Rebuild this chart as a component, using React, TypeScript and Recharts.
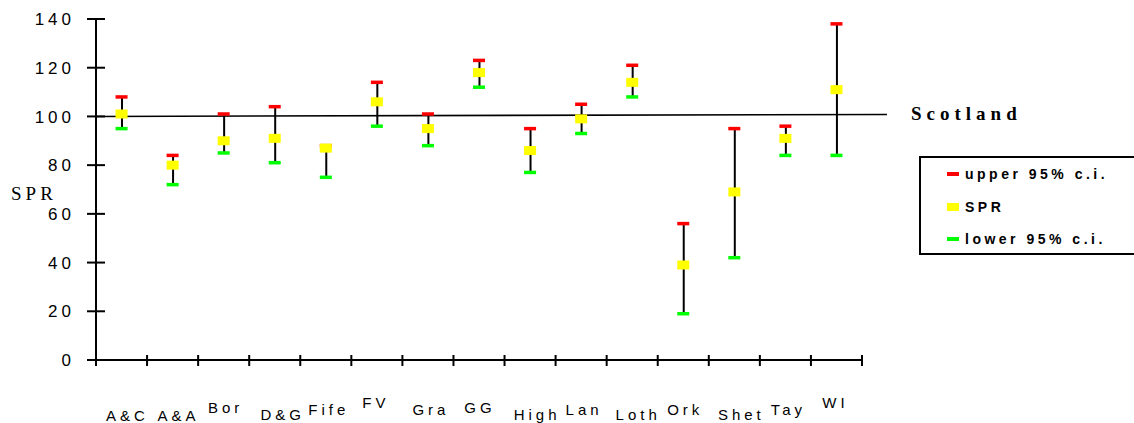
import { ComposedChart, Bar, Scatter, XAxis, YAxis, ReferenceLine, Legend } from 'recharts';

const areas = ['A&C', 'A&A', 'Bor', 'D&G', 'Fife', 'FV', 'Gra', 'GG', 'High', 'Lan', 'Loth', 'Ork', 'Shet', 'Tay', 'WI'];
const upperCI = [108, 84, 101, 104, 88, 114, 101, 123, 95, 105, 121, 56, 95, 96, 138];
const sprValues = [101, 80, 90, 91, 87, 106, 95, 118, 86, 99, 114, 39, 69, 91, 111];
const lowerCI = [95, 72, 85, 81, 75, 96, 88, 112, 77, 93, 108, 19, 42, 84, 84];
const yTicks = [0, 20, 40, 60, 80, 100, 120, 140];
const scotlandRate = 100;

// staggered label placement of the original (x shift, baseline below the axis)
const labelShift = [6, 6, 2, 8, 3, -1, 3, 1, 7, 3, 6, 2, 7, 3, -1];
const labelDrop = [61, 61, 53, 60, 55, 48, 55, 53, 60, 55, 60, 55, 60, 55, 48];

const data = areas.map((name, i) => ({
  name,
  upper: upperCI[i],
  spr: sprValues[i],
  lower: lowerCI[i],
}));

const W = 1134;
const H = 423;
const PLOT_LEFT = 96;
const PLOT_RIGHT = 862;
const BAND = (PLOT_RIGHT - PLOT_LEFT) / areas.length;

const sans = '"Liberation Sans", Arial, sans-serif';
const serif = '"Liberation Serif", "Times New Roman", serif';

const legendItems = [
  { label: 'upper 95% c.i.', color: '#ff0000', h: 3.5 },
  { label: 'SPR', color: '#ffff00', h: 8 },
  { label: 'lower 95% c.i.', color: '#00ff00', h: 3.5 },
];

const dash = (color: string) => (props: any) => (
  <rect x={props.cx - 6} y={props.cy - 1.75} width={12} height={3.5} fill={color} />
);
const square = (props: any) => (
  <rect x={props.cx - 6} y={props.cy - 4.5} width={12} height={9} fill="#ffff00" />
);

function YTick({ x, y, payload }: any) {
  return (
    <g>
      <line x1={x - 9} x2={x + 9} y1={y} y2={y} stroke="#000" strokeWidth={2} />
      <text x={x - 21} y={y} dy="0.36em" textAnchor="end" fontFamily={sans} fontSize={17} letterSpacing={4} fill="#000">
        {payload.value}
      </text>
    </g>
  );
}

function XTick({ x, y, payload, index }: any) {
  return (
    <g>
      {index === 0 && (
        <line x1={x - BAND / 2} x2={x - BAND / 2} y1={y - 5} y2={y + 6} stroke="#000" strokeWidth={2} />
      )}
      <line x1={x + BAND / 2} x2={x + BAND / 2} y1={y - 5} y2={y + 6} stroke="#000" strokeWidth={2} />
      <text x={x + labelShift[index]} y={y + labelDrop[index]} textAnchor="middle" fontFamily={sans} fontSize={15} letterSpacing={4} fill="#000">
        {payload.value}
      </text>
    </g>
  );
}

function ScotlandLine(props: any) {
  const { x1, y1, x2, y2 } = props;
  return (
    <g>
      <line x1={x1} y1={y1} x2={x2 + 25} y2={y2 - 2} stroke="#000" strokeWidth={1.6} />
      <text x={x2 + 49} y={y2 + 4} fontFamily={serif} fontWeight="bold" fontSize={19} letterSpacing={5} fill="#000">
        Scotland
      </text>
    </g>
  );
}

function LegendBox() {
  return (
    <div
      style={{
        position: 'relative',
        width: 240,
        height: 99,
        boxSizing: 'border-box',
        border: '2px solid #000',
        background: '#fff',
        fontFamily: sans,
        fontWeight: 'bold',
        fontSize: 14,
        letterSpacing: 3.5,
        color: '#000',
      }}
    >
      {legendItems.map((item, i) => (
        <div key={item.label} style={{ position: 'absolute', left: 26, top: 8 + i * 32.5, height: 16, display: 'flex', alignItems: 'center' }}>
          <span style={{ display: 'inline-block', width: 12, height: item.h, background: item.color, marginRight: 6 }} />
          <span style={{ lineHeight: '16px' }}>{item.label}</span>
        </div>
      ))}
    </div>
  );
}

export default function App() {
  return (
    <div style={{ position: 'absolute', left: 0, top: 0, width: W, height: H, overflow: 'hidden', background: '#fff' }}>
      <ComposedChart width={W} height={H} data={data} margin={{ top: 19, right: W - PLOT_RIGHT, bottom: 0, left: 36 }}>
        <XAxis
          dataKey="name"
          height={63}
          interval={0}
          tickLine={false}
          tickSize={0}
          tickMargin={0}
          axisLine={{ stroke: '#000', strokeWidth: 2 }}
          tick={<XTick />}
        />
        <YAxis
          type="number"
          width={60}
          domain={[0, 140]}
          ticks={yTicks}
          interval={0}
          tickLine={false}
          tickSize={0}
          tickMargin={0}
          axisLine={{ stroke: '#000', strokeWidth: 2 }}
          tick={<YTick />}
          label={{
            content: () => (
              <text x={11} y={200} fontFamily={serif} fontSize={19} letterSpacing={4} fill="#000">
                SPR
              </text>
            ),
          }}
        />
        <ReferenceLine y={scotlandRate} shape={ScotlandLine} />
        <Bar dataKey={(d: any) => [d.lower, d.upper]} barSize={2} fill="#000" legendType="none" isAnimationActive={false} />
        <Scatter name="upper 95% c.i." dataKey="upper" shape={dash('#ff0000')} isAnimationActive={false} />
        <Scatter name="lower 95% c.i." dataKey="lower" shape={dash('#00ff00')} isAnimationActive={false} />
        <Scatter name="SPR" dataKey="spr" shape={square} isAnimationActive={false} />
        <Legend
          layout="horizontal"
          verticalAlign="middle"
          align="center"
          wrapperStyle={{ left: 919, top: 156, width: 240 }}
          content={() => <LegendBox />}
        />
      </ComposedChart>
    </div>
  );
}
